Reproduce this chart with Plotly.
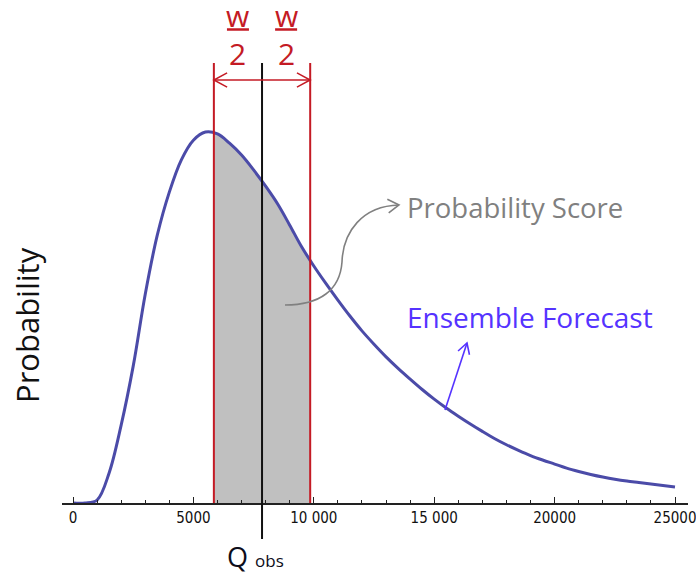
import numpy as np
import plotly.graph_objects as go

# ---------------- data ----------------
q_values = list(range(0, 25001, 500))
prob_values = [0.000, 0.000, 0.008, 0.081, 0.210, 0.369, 0.563, 0.722, 0.838, 0.925,
               0.978, 1.000, 0.995, 0.970, 0.938, 0.898, 0.854, 0.806, 0.749, 0.690,
               0.639, 0.592, 0.547, 0.504, 0.464, 0.428, 0.394, 0.363, 0.334, 0.306,
               0.280, 0.256, 0.234, 0.213, 0.193, 0.174, 0.157, 0.142, 0.128, 0.116,
               0.105, 0.094, 0.085, 0.077, 0.070, 0.064, 0.059, 0.055, 0.051, 0.047,
               0.043]
q_obs = 7850
half_width = 2000
tick_values = [0, 5000, 10000, 15000, 20000, 25000]
tick_labels = ["0", "5000", "10 000", "15 000", "20000", "25000"]
minor_tick_values = [v for v in range(1000, 25000, 1000) if v % 5000 != 0]

# ---------------- layout geometry ----------------
W, H = 696, 573
ML, MR, MT, MB = 62, 8, 0, 70
PW, PH = W - ML - MR, H - MT - MB
X_RANGE = [-457, 25540]
Y_RANGE = [0, 1.356]

def xpx(v):
    return ML + (v - X_RANGE[0]) / (X_RANGE[1] - X_RANGE[0]) * PW

def fx(px):
    return (px - ML) / PW

def fy(py):
    return (MT + PH - py) / PH

def path_px(points):
    return "M " + " L ".join(f"{fx(a):.5f},{fy(b):.5f}" for a, b in points)

def arrow_head(tip, direction, length=14, angle=30):
    d = np.array(direction, float)
    d = d / np.linalg.norm(d)
    back = -d
    out = []
    for s in (1, -1):
        a = np.radians(angle * s)
        r = np.array([back[0] * np.cos(a) - back[1] * np.sin(a),
                      back[0] * np.sin(a) + back[1] * np.cos(a)])
        out.append((tip[0] + r[0] * length, tip[1] + r[1] * length))
    return path_px([out[0], tip, out[1]])

RED = "#c41a24"
CURVE = "#4b4ba8"
GRAY = "#808080"
BLUE = "#5533ff"
FONT = "Open Sans"

lo, hi = q_obs - half_width, q_obs + half_width
fill_x = [lo] + [q for q in q_values if lo < q < hi] + [hi]
fill_y = list(np.interp(fill_x, q_values, prob_values))

fig = go.Figure()
fig.add_trace(go.Scatter(x=fill_x, y=fill_y, mode="lines", fill="tozeroy",
                         fillcolor="#c0c0c0", line=dict(width=0, shape="spline"),
                         hoverinfo="skip", showlegend=False))
fig.add_trace(go.Scatter(x=q_values, y=prob_values, mode="lines",
                         line=dict(color=CURVE, width=3, shape="spline", smoothing=1.0),
                         showlegend=False))

shapes = []
top_py = 63
for xv in (lo, hi):
    shapes.append(dict(type="line", xref="x", yref="paper", x0=xv, x1=xv,
                       y0=0, y1=fy(top_py), line=dict(color=RED, width=2), layer="above"))
shapes.append(dict(type="line", xref="x", yref="paper", x0=q_obs, x1=q_obs,
                   y0=fy(539), y1=fy(top_py), line=dict(color="#111111", width=2), layer="above"))

# double-headed width arrow
ay = 80
xl, xr = xpx(lo), xpx(hi)
shapes.append(dict(type="path", xref="paper", yref="paper",
                   path=path_px([(xl, ay), (xr, ay)]), line=dict(color=RED, width=1.5)))
shapes.append(dict(type="path", xref="paper", yref="paper",
                   path=arrow_head((xl, ay), (-1, 0), 15, 28), line=dict(color=RED, width=1.5)))
shapes.append(dict(type="path", xref="paper", yref="paper",
                   path=arrow_head((xr, ay), (1, 0), 15, 28), line=dict(color=RED, width=1.5)))

# underlines of the w/2 fractions
for xc in (q_obs - half_width / 2, q_obs + half_width / 2):
    pc = xpx(xc)
    shapes.append(dict(type="line", xref="paper", yref="paper",
                       x0=fx(pc - 11), x1=fx(pc + 11), y0=fy(29.5), y1=fy(29.5),
                       line=dict(color=RED, width=2.5)))

# gray curved arrow for Probability Score
p0, c1, c2, p1, c3, c4, p2 = (285, 305), (320, 305), (340, 290), (342, 262), (343, 232), (362, 206), (399, 205)
gpath = (f"M {fx(p0[0]):.5f},{fy(p0[1]):.5f} "
         f"C {fx(c1[0]):.5f},{fy(c1[1]):.5f} {fx(c2[0]):.5f},{fy(c2[1]):.5f} {fx(p1[0]):.5f},{fy(p1[1]):.5f} "
         f"C {fx(c3[0]):.5f},{fy(c3[1]):.5f} {fx(c4[0]):.5f},{fy(c4[1]):.5f} {fx(p2[0]):.5f},{fy(p2[1]):.5f}")
shapes.append(dict(type="path", xref="paper", yref="paper", path=gpath,
                   line=dict(color=GRAY, width=1.6)))
shapes.append(dict(type="path", xref="paper", yref="paper",
                   path=arrow_head(p2, (1, -0.1), 13, 32), line=dict(color=GRAY, width=1.6)))

# blue arrow for Ensemble Forecast
b0, b1 = (445, 410), (467, 343)
shapes.append(dict(type="path", xref="paper", yref="paper", path=path_px([b0, b1]),
                   line=dict(color=BLUE, width=1.6)))
shapes.append(dict(type="path", xref="paper", yref="paper",
                   path=arrow_head(b1, (b1[0] - b0[0], b1[1] - b0[1]), 12, 30),
                   line=dict(color=BLUE, width=1.6)))

annotations = []
for xc in (q_obs - half_width / 2, q_obs + half_width / 2):
    annotations.append(dict(x=xc, xref="x", y=fy(15), yref="paper", text="w",
                            showarrow=False, font=dict(family=FONT, size=30, color=RED),
                            xanchor="center", yanchor="middle"))
    annotations.append(dict(x=xc, xref="x", y=fy(53), yref="paper", text="2",
                            showarrow=False, font=dict(family=FONT, size=30, color=RED),
                            xanchor="center", yanchor="middle"))
annotations.append(dict(x=fx(405), y=fy(207), xref="paper", yref="paper",
                        text="Probability Score", showarrow=False, xanchor="left",
                        yanchor="middle", font=dict(family=FONT, size=27.5, color=GRAY)))
annotations.append(dict(x=fx(405), y=fy(317), xref="paper", yref="paper",
                        text="Ensemble Forecast", showarrow=False, xanchor="left",
                        yanchor="middle", font=dict(family=FONT, size=28, color=BLUE)))
annotations.append(dict(x=fx(27), y=fy(325), xref="paper", yref="paper",
                        text="Probability", showarrow=False, textangle=-90,
                        xanchor="center", yanchor="middle",
                        font=dict(family=FONT, size=31, color="#111111")))
annotations.append(dict(x=fx(225), y=fy(556), xref="paper", yref="paper",
                        text="Q <span style='font-size:17px'>obs</span>", showarrow=False,
                        xanchor="left", yanchor="middle",
                        font=dict(family=FONT, size=27, color="#0d0d1a")))

fig.update_layout(
    width=W, height=H,
    margin=dict(l=ML, r=MR, t=MT, b=MB, pad=0),
    paper_bgcolor="white", plot_bgcolor="white",
    shapes=shapes, annotations=annotations,
    xaxis=dict(range=X_RANGE, showgrid=False, zeroline=False, showline=True,
               linecolor="#222222", linewidth=1.5,
               tickmode="array", tickvals=tick_values, ticktext=tick_labels,
               ticks="inside", ticklen=6, tickwidth=1.3, tickcolor="#222222",
               ticklabeloverflow="allow",
               tickfont=dict(family="Liberation Sans Narrow, DejaVu Sans Condensed, Arial Narrow, sans-serif",
                             size=15, color="#111111"),
               minor=dict(tickvals=minor_tick_values, ticks="inside", ticklen=3.5,
                          tickwidth=1.2, tickcolor="#222222")),
    yaxis=dict(range=Y_RANGE, visible=False, showgrid=False, zeroline=False),
)
fig.write_html("out.html", config={"displayModeBar": False},
               post_script="document.body.style.margin='0px';")
